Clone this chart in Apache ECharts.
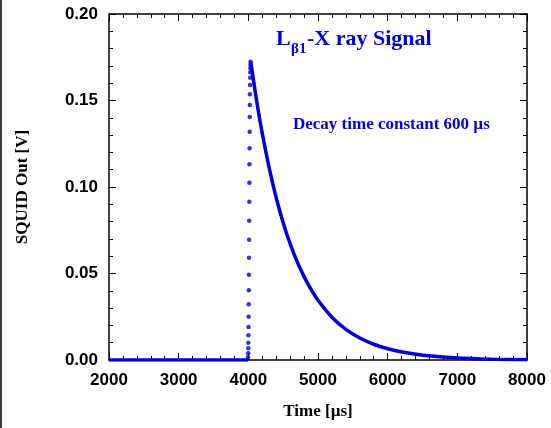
<!DOCTYPE html>
<html>
<head>
<meta charset="utf-8">
<script src="https://cdn.jsdelivr.net/npm/echarts@6/dist/echarts.min.js"></script>
<style>html,body{margin:0;padding:0;background:#fff;}#c{width:551px;height:428px;}</style>
</head>
<body>
<div id="c"></div>
<script>
// Baseline before the pulse (time in µs, signal in V)
var baseTime = [2000, 2500, 3000, 3500, 3995];
var baseVal  = [0, 0, 0, 0, 0];
// Rising edge samples (shown as separate dots)
var riseTime = [3996, 3997, 3999, 4000, 4001, 4003, 4004, 4005, 4007, 4008, 4010, 4011, 4012, 4014, 4015, 4016, 4018, 4019, 4021, 4022, 4023, 4025, 4026, 4027, 4029, 4030, 4032];
var riseVal  = [0.0016, 0.0039, 0.0068, 0.0100, 0.0143, 0.0191, 0.0250, 0.0322, 0.0403, 0.0493, 0.0591, 0.0695, 0.0805, 0.0915, 0.1025, 0.1131, 0.1224, 0.1320, 0.1405, 0.1474, 0.1536, 0.1590, 0.1632, 0.1663, 0.1686, 0.1705, 0.1724];
// Exponential decay part
var decayTime = [4035, 4060, 4100, 4150, 4200, 4300, 4400, 4500, 4600, 4700, 4800, 4900, 5000, 5200, 5400, 5600, 5800, 6000, 6250, 6500, 7000, 7500, 8000];
var decayVal  = [0.1724, 0.1654, 0.1548, 0.1423, 0.1310, 0.1109, 0.0938, 0.0794, 0.0672, 0.0569, 0.0482, 0.0408, 0.0345, 0.0247, 0.0177, 0.0127, 0.0091, 0.0065, 0.0043, 0.0028, 0.0012, 0.0005, 0.0002];
var xTicks = ['2000', '3000', '4000', '5000', '6000', '7000', '8000'];
var yTicks = ['0.00', '0.05', '0.10', '0.15', '0.20'];

var blue = '#0000dd';
function pairs(xs, ys){ return xs.map(function(x,i){ return [x, ys[i]]; }); }

var chart = echarts.init(document.getElementById('c'), null, {renderer:'canvas'});
var axisCommon = {
  axisLine: {show: true, onZero: false, lineStyle: {color: '#000', width: 1.5}},
  axisTick: {show: true, inside: true, length: 7, lineStyle: {color: '#000', width: 1}},
  minorTick: {show: true, splitNumber: 5, length: 4, lineStyle: {color: '#000', width: 1}},
  splitLine: {show: false}
};
function merge(a, b){ var o = {}; for (var k in a) o[k]=a[k]; for (var k2 in b) o[k2]=b[k2]; return o; }

chart.setOption({
  animation: false,
  backgroundColor: '#fff',
  grid: {left: 109, right: 24, top: 14, bottom: 68},
  xAxis: [
    merge(axisCommon, {
      type: 'value', min: 2000, max: 8000, interval: 1000,
      position: 'bottom',
      name: 'Time [\u00b5s]', nameLocation: 'middle', nameGap: 43,
      nameTextStyle: {fontFamily: 'Liberation Serif', fontWeight: 'bold', fontSize: 17, color: '#000'},
      axisLabel: {margin: 12, fontFamily: 'Liberation Sans', fontWeight: 'bold', fontSize: 17, color: '#000',
        formatter: function(v){ return xTicks[Math.round((v-2000)/1000)]; }}
    }),
    merge(axisCommon, {
      type: 'value', min: 2000, max: 8000, interval: 1000,
      position: 'top', axisLabel: {show: false}
    })
  ],
  yAxis: [
    merge(axisCommon, {
      type: 'value', min: 0, max: 0.2, interval: 0.05,
      position: 'left',
      name: 'SQUID Out [V]', nameLocation: 'middle', nameGap: 78, nameRotate: 90,
      nameTextStyle: {fontFamily: 'Liberation Serif', fontWeight: 'bold', fontSize: 17, color: '#000'},
      axisLabel: {margin: 11, fontFamily: 'Liberation Sans', fontWeight: 'bold', fontSize: 17, color: '#000',
        formatter: function(v){ return yTicks[Math.round(v/0.05)]; }}
    }),
    merge(axisCommon, {
      type: 'value', min: 0, max: 0.2, interval: 0.05,
      position: 'right', axisLabel: {show: false}
    })
  ],
  series: [
    {type: 'line', xAxisIndex: 0, yAxisIndex: 0, data: pairs(baseTime, baseVal), showSymbol: false,
     lineStyle: {color: blue, width: 3.5}, z: 3},
    {type: 'scatter', xAxisIndex: 0, yAxisIndex: 0, data: pairs(riseTime, riseVal), symbol: 'circle', symbolSize: 4.5,
     itemStyle: {color: blue}, z: 4},
    {type: 'line', xAxisIndex: 0, yAxisIndex: 0, data: pairs(decayTime, decayVal), showSymbol: false, smooth: 0.3,
     lineStyle: {color: blue, width: 3.5}, z: 3}
  ],
  graphic: [
    {type: 'line', shape: {x1: 1, y1: 0, x2: 1, y2: 428}, style: {stroke: '#000', lineWidth: 1.5}},
    {type: 'text', left: 276, top: 28, style: {text: 'L', fontFamily: 'Liberation Serif', fontWeight: 'bold', fontSize: 22, fill: blue}},
    {type: 'text', left: 291, top: 42, style: {text: '\u03b21', fontFamily: 'Liberation Serif', fontWeight: 'bold', fontSize: 15, fill: blue}},
    {type: 'text', left: 307, top: 28, style: {text: '-X ray Signal', fontFamily: 'Liberation Serif', fontWeight: 'bold', fontSize: 22, fill: blue}},
    {type: 'text', left: 293, top: 116, style: {text: 'Decay time constant 600 \u00b5s', fontFamily: 'Liberation Serif', fontWeight: 'bold', fontSize: 17, fill: blue}}
  ]
});
</script>
</body>
</html>
